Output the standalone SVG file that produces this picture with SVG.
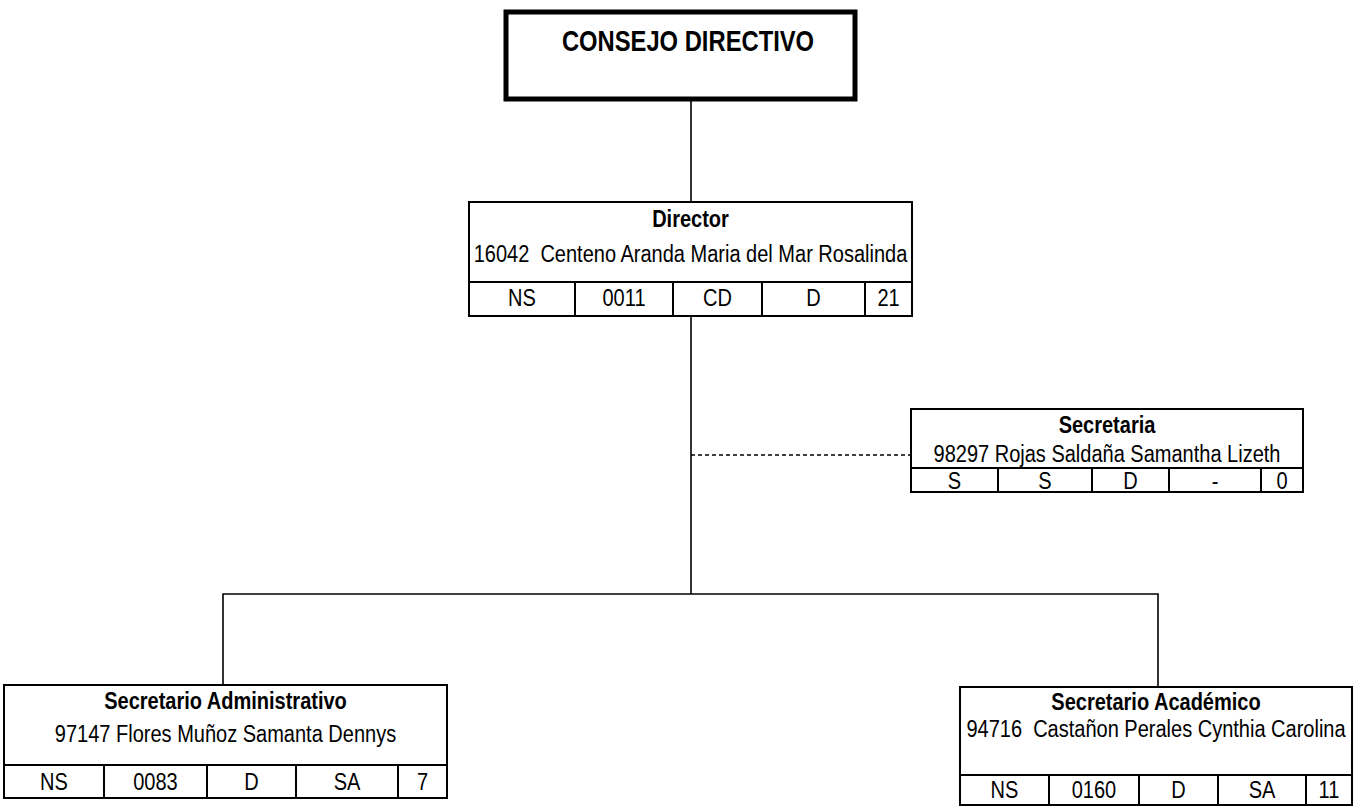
<svg xmlns="http://www.w3.org/2000/svg" width="1354" height="807" viewBox="0 0 1354 807">
<style>
.box{fill:#fff;stroke:#000;stroke-width:2}
.ln{stroke:#000;stroke-width:2;fill:none}
.c{stroke:#000;stroke-width:1.6;fill:none}
text{font-family:"Liberation Sans",Arial,sans-serif;font-size:23px;fill:#000;text-anchor:middle;white-space:pre}
.b{font-weight:bold}
</style>
<rect width="1354" height="807" fill="#fff"/>
<g id="connectors">
<line class="c" x1="691" y1="99" x2="691" y2="202"/>
<line class="c" x1="691" y1="316" x2="691" y2="594"/>
<polyline class="c" points="223,685 223,594 1158,594 1158,687"/>
<line class="c" x1="691" y1="455" x2="911" y2="455" stroke-dasharray="4,3"/>
</g>
<g id="consejo">
<rect x="506" y="12" width="349" height="87" fill="#fff" stroke="#000" stroke-width="5"/>
<text class="b" transform="translate(688,51) scale(0.82,1)" style="font-size:29px">CONSEJO DIRECTIVO</text>
</g>
<g id="director">
<rect class="box" x="469" y="202" width="443" height="114"/>
<line class="ln" x1="469" y1="282" x2="912" y2="282"/>
<line class="ln" x1="575" y1="282" x2="575" y2="316"/>
<line class="ln" x1="673" y1="282" x2="673" y2="316"/>
<line class="ln" x1="762" y1="282" x2="762" y2="316"/>
<line class="ln" x1="865" y1="282" x2="865" y2="316"/>
<text class="b" transform="translate(690.5,227) scale(0.87,1)">Director</text>
<text transform="translate(690.5,262) scale(0.87,1)">16042  Centeno Aranda Maria del Mar Rosalinda</text>
<text transform="translate(522,306) scale(0.87,1)">NS</text>
<text transform="translate(624,306) scale(0.87,1)">0011</text>
<text transform="translate(717.5,306) scale(0.87,1)">CD</text>
<text transform="translate(813.5,306) scale(0.87,1)">D</text>
<text transform="translate(888.5,306) scale(0.87,1)">21</text>
</g>
<g id="secretaria">
<rect class="box" x="911" y="409" width="392" height="83"/>
<line class="ln" x1="911" y1="468" x2="1303" y2="468"/>
<line class="ln" x1="998" y1="468" x2="998" y2="492"/>
<line class="ln" x1="1092" y1="468" x2="1092" y2="492"/>
<line class="ln" x1="1169" y1="468" x2="1169" y2="492"/>
<line class="ln" x1="1261" y1="468" x2="1261" y2="492"/>
<text class="b" transform="translate(1107,433) scale(0.87,1)">Secretaria</text>
<text transform="translate(1107,462) scale(0.87,1)">98297 Rojas Saldaña Samantha Lizeth</text>
<text transform="translate(954.5,489) scale(0.87,1)">S</text>
<text transform="translate(1045,489) scale(0.87,1)">S</text>
<text transform="translate(1130.5,489) scale(0.87,1)">D</text>
<text transform="translate(1215,489) scale(0.87,1)">-</text>
<text transform="translate(1282,489) scale(0.87,1)">0</text>
</g>
<g id="sec-admin">
<rect class="box" x="4" y="685" width="443" height="113"/>
<line class="ln" x1="4" y1="765" x2="447" y2="765"/>
<line class="ln" x1="104" y1="765" x2="104" y2="798"/>
<line class="ln" x1="207" y1="765" x2="207" y2="798"/>
<line class="ln" x1="296" y1="765" x2="296" y2="798"/>
<line class="ln" x1="398" y1="765" x2="398" y2="798"/>
<text class="b" transform="translate(225.5,709) scale(0.87,1)">Secretario Administrativo</text>
<text transform="translate(225.5,742) scale(0.87,1)">97147 Flores Muñoz Samanta Dennys</text>
<text transform="translate(54,790) scale(0.87,1)">NS</text>
<text transform="translate(155.5,790) scale(0.87,1)">0083</text>
<text transform="translate(251.5,790) scale(0.87,1)">D</text>
<text transform="translate(347,790) scale(0.87,1)">SA</text>
<text transform="translate(422.5,790) scale(0.87,1)">7</text>
</g>
<g id="sec-academico">
<rect class="box" x="960" y="687" width="392" height="118"/>
<line class="ln" x1="960" y1="775" x2="1352" y2="775"/>
<line class="ln" x1="1049" y1="775" x2="1049" y2="805"/>
<line class="ln" x1="1139" y1="775" x2="1139" y2="805"/>
<line class="ln" x1="1218" y1="775" x2="1218" y2="805"/>
<line class="ln" x1="1306" y1="775" x2="1306" y2="805"/>
<text class="b" transform="translate(1156,710) scale(0.87,1)">Secretario Académico</text>
<text transform="translate(1156,737) scale(0.87,1)">94716  Castañon Perales Cynthia Carolina</text>
<text transform="translate(1004.5,798) scale(0.87,1)">NS</text>
<text transform="translate(1094,798) scale(0.87,1)">0160</text>
<text transform="translate(1178.5,798) scale(0.87,1)">D</text>
<text transform="translate(1262,798) scale(0.87,1)">SA</text>
<text transform="translate(1329,798) scale(0.87,1)">11</text>
</g>
</svg>
